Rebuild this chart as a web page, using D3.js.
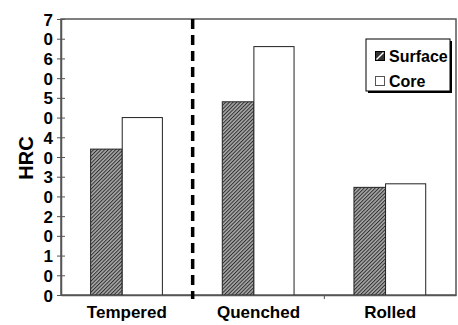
<!DOCTYPE html>
<html><head><meta charset="utf-8">
<script src="https://cdn.jsdelivr.net/npm/d3@7"></script>
<style>body{margin:0;background:#fff}svg{display:block}text{font-family:"Liberation Sans",Arial,sans-serif;font-weight:bold;fill:#000}</style>
</head><body>
<script>
const categories = ["Tempered", "Quenched", "Rolled"];
const surface = [37, 49, 27.3];
const core = [45, 63, 28.2];
const yTicks = [0,5,10,15,20,25,30,35,40,45,50,55,60,65,70];
const yTickLabels = ["0","0","1","0","2","0","3","0","4","0","5","0","6","0","7"];
const seriesNames = ["Surface", "Core"];

const W = 458, H = 325;
const m = {l: 61, r: 2, t: 19, b: 30};
const svg = d3.select("body").append("svg").attr("width", W).attr("height", H);

const defs = svg.append("defs");
const pat = defs.append("pattern").attr("id","hatch").attr("patternUnits","userSpaceOnUse")
  .attr("width",2.6).attr("height",2.6).attr("patternTransform","rotate(-45)");
pat.append("rect").attr("width",2.6).attr("height",2.6).attr("fill","#a8a8a8");
pat.append("rect").attr("width",2.6).attr("height",1).attr("fill","#303030");

const x = d3.scaleBand().domain(categories).range([m.l, W - m.r]);
const y = d3.scaleLinear().domain([0, 70]).range([H - m.b, m.t]);
const bw = x.bandwidth();

// frame
svg.append("rect").attr("x", m.l).attr("y", m.t).attr("width", W - m.r - m.l).attr("height", H - m.b - m.t)
  .attr("fill","none").attr("stroke","#555").attr("stroke-width",1.5);

// bars
const g = svg.append("g");
g.selectAll(".s").data(categories).enter().append("rect")
  .attr("x", d => x(d) + bw*0.225).attr("width", bw*0.24)
  .attr("y", (d,i) => y(surface[i])).attr("height", (d,i) => y(0) - y(surface[i]))
  .attr("fill","url(#hatch)").attr("stroke","#222").attr("stroke-width",1);
g.selectAll(".c").data(categories).enter().append("rect")
  .attr("x", d => x(d) + bw*0.465).attr("width", bw*0.305)
  .attr("y", (d,i) => y(core[i])).attr("height", (d,i) => y(0) - y(core[i]))
  .attr("fill","#fff").attr("stroke","#222").attr("stroke-width",1);

// y axis
const ya = svg.append("g").attr("transform", `translate(${m.l},0)`)
  .call(d3.axisLeft(y).tickValues(yTicks).tickSize(0).tickPadding(8).tickFormat((d,i) => yTickLabels[i]));
ya.select(".domain").attr("stroke","#555").attr("stroke-width",1.5);
ya.selectAll("text").style("font-size","17px").attr("dy","0.36em");
ya.selectAll(".tick").append("line").attr("x1",-4).attr("x2",4).attr("stroke","#555").attr("stroke-width",1);

// x axis
const xa = svg.append("g").attr("transform", `translate(0,${H - m.b})`)
  .call(d3.axisBottom(x).tickSize(0).tickPadding(11));
xa.select(".domain").attr("stroke","#555").attr("stroke-width",1.5);
xa.selectAll("text").style("font-size","17px");
// band boundary ticks
svg.selectAll(".bt").data(categories.slice(1)).enter().append("line")
  .attr("x1", d => x(d)).attr("x2", d => x(d)).attr("y1", H - m.b).attr("y2", H - m.b + 4)
  .attr("stroke","#555").attr("stroke-width",1);

// dashed divider
svg.append("line").attr("x1", x(categories[1])).attr("x2", x(categories[1]))
  .attr("y1", m.t).attr("y2", H - m.b + 4)
  .attr("stroke","#000").attr("stroke-width",3.5).attr("stroke-dasharray","10,6");

// y label
svg.append("text").attr("transform","translate(33,158) rotate(-90)").attr("text-anchor","middle")
  .style("font-size","20px").text("HRC");

// legend
const lg = svg.append("g");
lg.append("rect").attr("x",368).attr("y",41).attr("width",84).attr("height",52).attr("fill","#000");
lg.append("rect").attr("x",366).attr("y",39).attr("width",84).attr("height",52).attr("fill","#fff").attr("stroke","#000").attr("stroke-width",1);
seriesNames.forEach((s,i) => {
  const yy = 56 + i*25;
  lg.append("rect").attr("x",375.5).attr("y",yy-4.5).attr("width",9).attr("height",9)
    .attr("fill", i===0 ? "#333" : "#fff").attr("stroke", i===0 ? "#000" : "#555").attr("stroke-width",1);
  if (i===0) lg.append("line").attr("x1",376.5).attr("y1",yy+3.5).attr("x2",383.5).attr("y2",yy-3.5).attr("stroke","#fff").attr("stroke-width",1.5);
  lg.append("text").attr("x",389).attr("y",yy).attr("dy","0.36em").style("font-size","16px").text(s);
});
</script>
</body></html>
